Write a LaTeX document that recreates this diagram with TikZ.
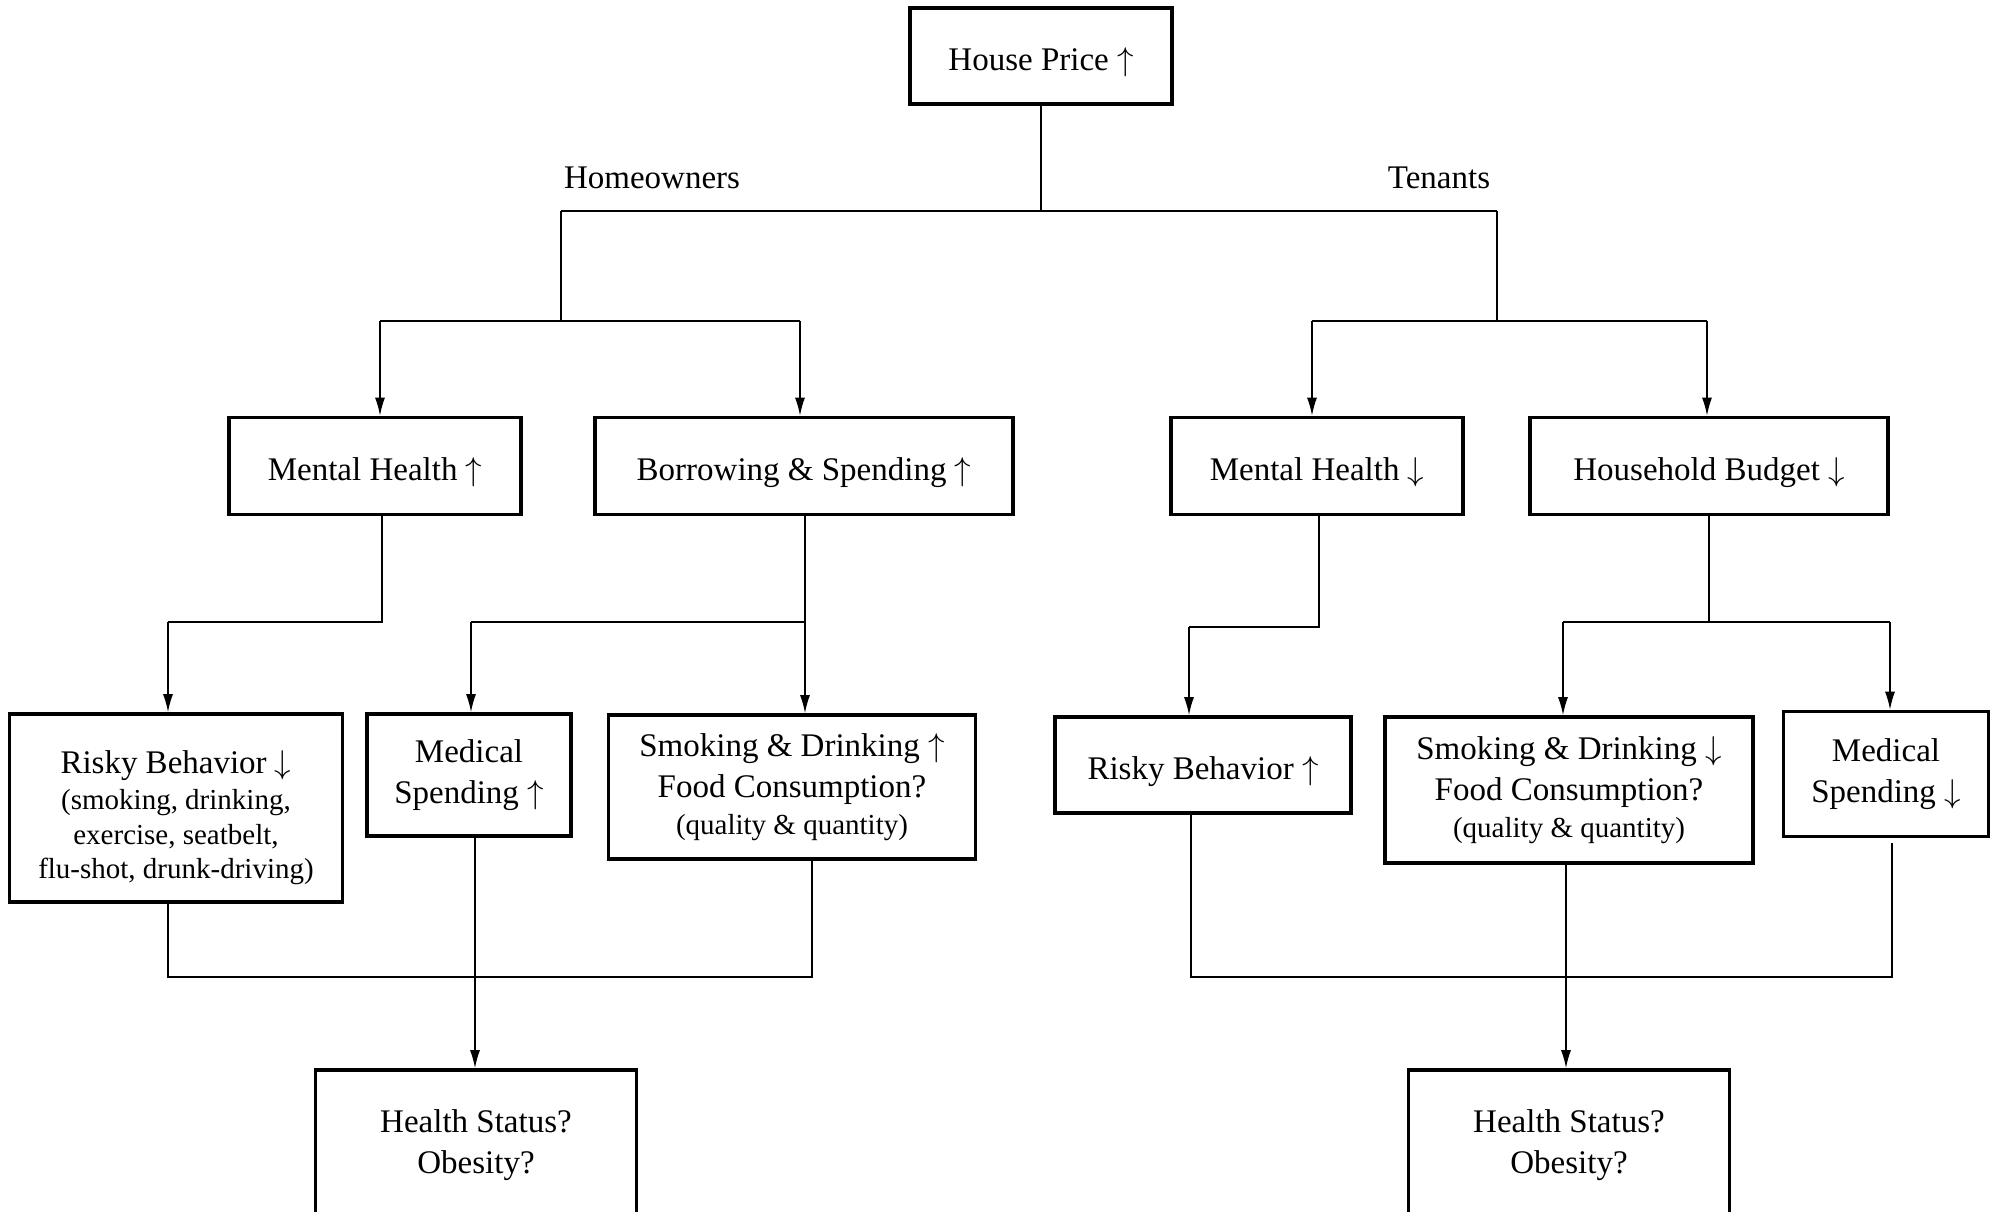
\RequirePackage{fix-cm}
\documentclass[tikz,border=0pt]{standalone}
\usepackage{fontspec}
\setmainfont{Liberation Serif}
\usetikzlibrary{arrows.meta}
\tikzset{
  box/.style={draw, line width=3.6pt, align=center, inner sep=0pt, font=\fontsize{33}{41}\selectfont,
    execute at begin node={\rule{0pt}{36pt}}},
  lbl/.style={font=\fontsize{33}{41}\selectfont, inner sep=0pt},
  ln/.style={line width=1.5pt},
  arr/.style={line width=1.5pt, -{Latex[length=18pt,width=10pt]}},
}
\newcommand{\smtxt}{\fontsize{29}{35}\selectfont}
\newcommand{\up}{$\uparrow$}
\newcommand{\dn}{$\downarrow$}
\begin{document}
\begin{tikzpicture}[x=1pt,y=-1pt]
\useasboundingbox[fill=white] (0,0) rectangle (1998,1212);
% nodes
\node[box, minimum width=262, minimum height=96] (hp) at (1041,56) {House Price \up};
\node[lbl] (ho) at (652,178) {Homeowners};
\node[lbl] (te) at (1439,178) {Tenants};
\node[box, minimum width=292, minimum height=97] (mhu) at (375,466) {Mental Health \up};
\node[box, minimum width=418, minimum height=97] (bor) at (804,466) {Borrowing \& Spending \up};
\node[box, minimum width=292, minimum height=97] (mhd) at (1317,466) {Mental Health \dn};
\node[box, minimum width=358, minimum height=97] (hb) at (1709,466) {Household Budget \dn};
\node[box, minimum width=333, minimum height=188] (rbd) at (176,808)
  {\rule{0pt}{42pt}Risky Behavior \dn\\[-5pt] \smtxt (smoking, drinking,\\[-6pt] \smtxt exercise, seatbelt,\\[-7pt] \smtxt flu-shot, drunk-driving)};
\node[box, minimum width=204, minimum height=122] (msu) at (469,775) {Medical\\ Spending \up};
\node[box, minimum width=367, minimum height=144] (sdu) at (792,787)
  {Smoking \& Drinking \up\\ Food Consumption?\\[-4pt] \smtxt (quality \& quantity)};
\node[box, minimum width=296, minimum height=96] (rbu) at (1203,765) {Risky Behavior \up};
\node[box, minimum width=368, minimum height=146] (sdd) at (1569,790)
  {Smoking \& Drinking \dn\\ Food Consumption?\\[-4pt] \smtxt (quality \& quantity)};
\node[box, minimum width=205, minimum height=125] (msd) at (1886,774) {Medical\\ Spending \dn};
\node[box, minimum width=321, minimum height=150] (hsl) at (476,1145) {Health Status?\\ Obesity?};
\node[box, minimum width=321, minimum height=150] (hsr) at (1569,1145) {Health Status?\\ Obesity?};
% junction coordinates
\coordinate (jl) at (561,211);
\coordinate (jr) at (1497,211);
\coordinate (jl2) at (561,321);
\coordinate (jla) at (380,321);
\coordinate (jlb) at (800,321);
\coordinate (jr2) at (1497,321);
\coordinate (jra) at (1312,321);
\coordinate (jrb) at (1707,321);
\coordinate (a1) at (382,622);
\coordinate (a2) at (168,622);
\coordinate (b1) at (805,622);
\coordinate (b2) at (471,622);
\coordinate (c1) at (1319,627);
\coordinate (c2) at (1189,627);
\coordinate (d1) at (1709,622);
\coordinate (d2) at (1563,622);
\coordinate (d3) at (1890,622);
\coordinate (e1) at (168,977);
\coordinate (e2) at (812,977);
\coordinate (e3) at (475,977);
\coordinate (f1) at (1191,977);
\coordinate (f2) at (1892,977);
\coordinate (f3) at (1566,977);
% top tree
\draw[ln] (hp.south) -- (hp.south |- jl);
\draw[ln] (jl) -- (jr);
\draw[ln] (jl) -- (jl2);
\draw[ln] (jr) -- (jr2);
\draw[ln] (jla) -- (jlb);
\draw[ln] (jra) -- (jrb);
\draw[arr] (jla) -- (jla |- mhu.north);
\draw[arr] (jlb) -- (jlb |- bor.north);
\draw[arr] (jra) -- (jra |- mhd.north);
\draw[arr] (jrb) -- (jrb |- hb.north);
% second level
\draw[ln] (a1 |- mhu.south) -- (a1) -- (a2);
\draw[arr] (a2) -- (a2 |- rbd.north);
\draw[ln] (b1 |- bor.south) -- (b1);
\draw[ln] (b2) -- (b1);
\draw[arr] (b2) -- (b2 |- msu.north);
\draw[arr] (b1) -- (b1 |- sdu.north);
\draw[ln] (c1 |- mhd.south) -- (c1) -- (c2);
\draw[arr] (c2) -- (c2 |- rbu.north);
\draw[ln] (d1 |- hb.south) -- (d1);
\draw[ln] (d2) -- (d3);
\draw[arr] (d2) -- (d2 |- sdd.north);
\draw[arr] (d3) -- (d3 |- msd.north);
% bottom
\draw[ln] (e1 |- rbd.south) -- (e1) -- (e2) -- (e2 |- sdu.south);
\draw[arr] (e3 |- msu.south) -- (e3 |- hsl.north);
\draw[ln] (f1 |- rbu.south) -- (f1) -- (f2) -- ([yshift=-5pt]f2 |- msd.south);
\draw[arr] (f3 |- sdd.south) -- (f3 |- hsr.north);
\end{tikzpicture}
\end{document}
